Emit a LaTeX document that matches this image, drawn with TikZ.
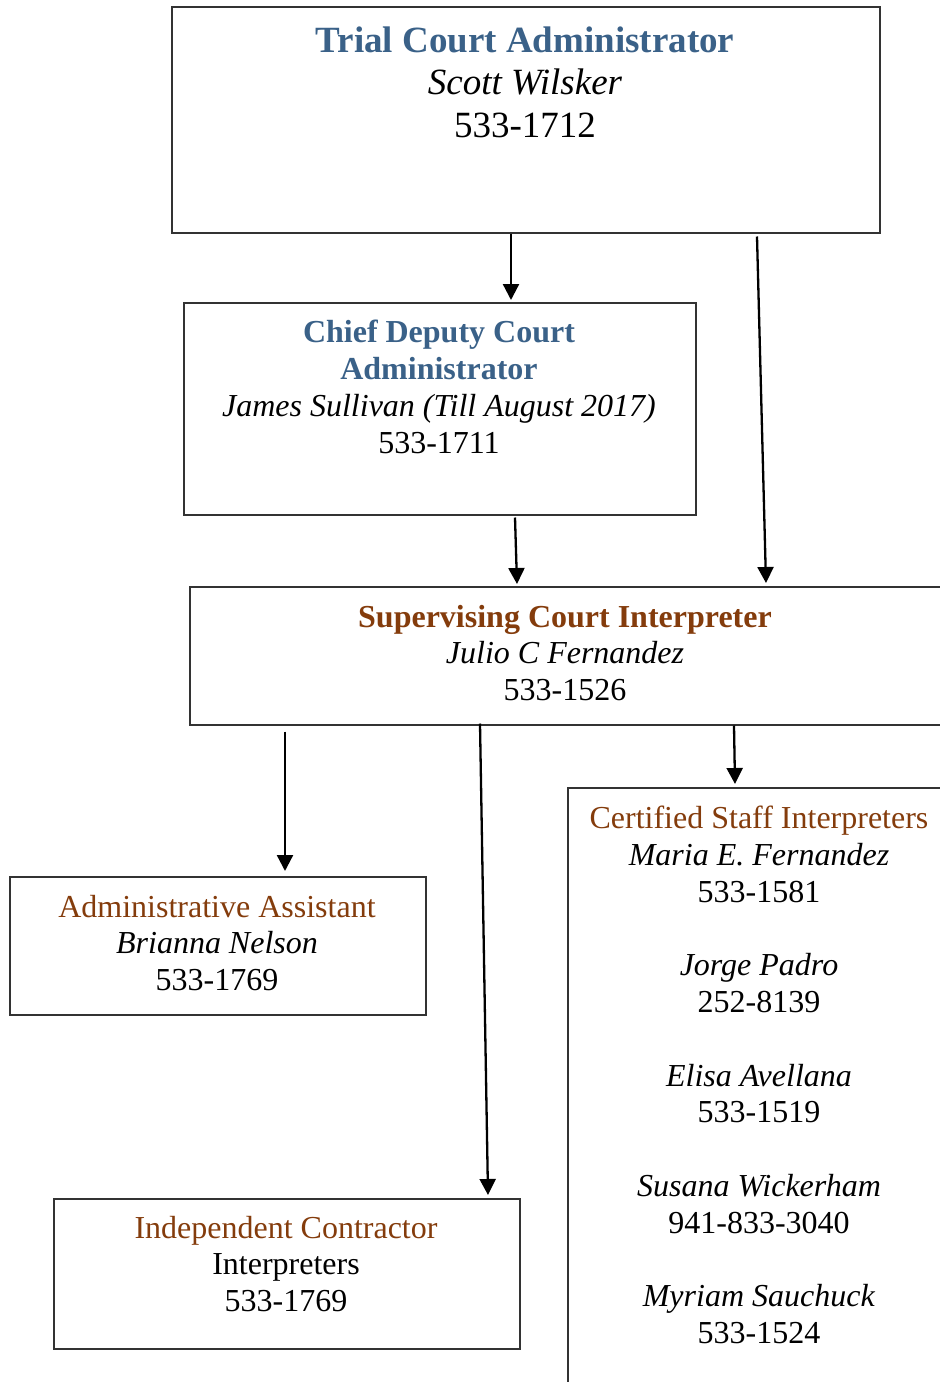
\documentclass[tikz,border=0pt]{standalone}
\usepackage{fontspec}
\setmainfont{Liberation Serif}
\usetikzlibrary{arrows.meta,calc}
\definecolor{titleblue}{HTML}{3A6188}
\definecolor{titlebrown}{HTML}{843C0C}
\definecolor{boxline}{HTML}{333333}
\begin{document}
\begin{tikzpicture}[x=1pt,y=-1pt,
  box/.style={draw=boxline,line width=1.5pt,inner sep=0pt,anchor=north west},
  big/.style={align=center,inner sep=0pt,font=\fontsize{37}{42.5}\selectfont},
  txt/.style={align=center,inner sep=0pt,font=\fontsize{32}{36.8}\selectfont},
  arr/.style={line width=2.3pt,-{Triangle[length=16pt,width=16pt]}}]
\useasboundingbox (0,0) rectangle (940,1382);
\clip (0,0) rectangle (940,1382);
% boxes
\node[box,minimum width=708pt,minimum height=226pt] (tca) at (171,6) {};
\node[box,minimum width=512pt,minimum height=212pt] (cdca) at (183,302) {};
\node[box,minimum width=771pt,minimum height=138pt] (sci) at (189,586) {};
\node[box,minimum width=416pt,minimum height=138pt] (aa) at (9,876) {};
\node[box,minimum width=466pt,minimum height=150pt] (ic) at (53,1198) {};
\node[box,minimum width=400pt,minimum height=620pt] (csi) at (567,787) {};
% texts
\node[big] (tcat) at (525,82) {\textcolor{titleblue}{\textbf{Trial Court Administrator}}\\\textit{Scott Wilsker}\\533-1712};
\node[txt] (cdcat) at (439,387) {\textcolor{titleblue}{\textbf{Chief Deputy Court}}\\\textcolor{titleblue}{\textbf{Administrator}}\\\textit{James Sullivan (Till August 2017)}\\533-1711};
\node[txt] (scit) at (565,653) {\textcolor{titlebrown}{\textbf{Supervising Court Interpreter}}\\\textit{Julio C Fernandez}\\533-1526};
\node[txt] (aat) at (217,943) {\textcolor{titlebrown}{Administrative Assistant}\\\textit{Brianna Nelson}\\533-1769};
\node[txt] (ict) at (286,1264) {\textcolor{titlebrown}{Independent Contractor}\\Interpreters\\533-1769};
\node[txt] (csit) at (759,1075) {\textcolor{titlebrown}{Certified Staff Interpreters}\\\textit{Maria E. Fernandez}\\533-1581\\[36.8pt]\textit{Jorge Padro}\\252-8139\\[36.8pt]\textit{Elisa Avellana}\\533-1519\\[36.8pt]\textit{Susana Wickerham}\\941-833-3040\\[36.8pt]\textit{Myriam Sauchuck}\\533-1524};
% connectors
\draw[arr] ($(tca.south west)+(340,0)$) -- ($(cdca.north west)+(328,-2)$);
\draw[arr] ($(tca.south west)+(586,3)$) -- ($(sci.north west)+(577,-3)$);
\draw[arr] ($(cdca.south west)+(332,2)$) -- ($(sci.north west)+(328,-2)$);
\draw[arr] ($(sci.south west)+(96,6)$) -- ($(aa.north west)+(276,-5)$);
\draw[arr] ($(sci.south west)+(291,-2)$) -- ($(ic.north west)+(435,-3)$);
\draw[arr] ($(sci.south west)+(545,0)$) -- ($(csi.north west)+(168,-3)$);
\end{tikzpicture}
\end{document}
